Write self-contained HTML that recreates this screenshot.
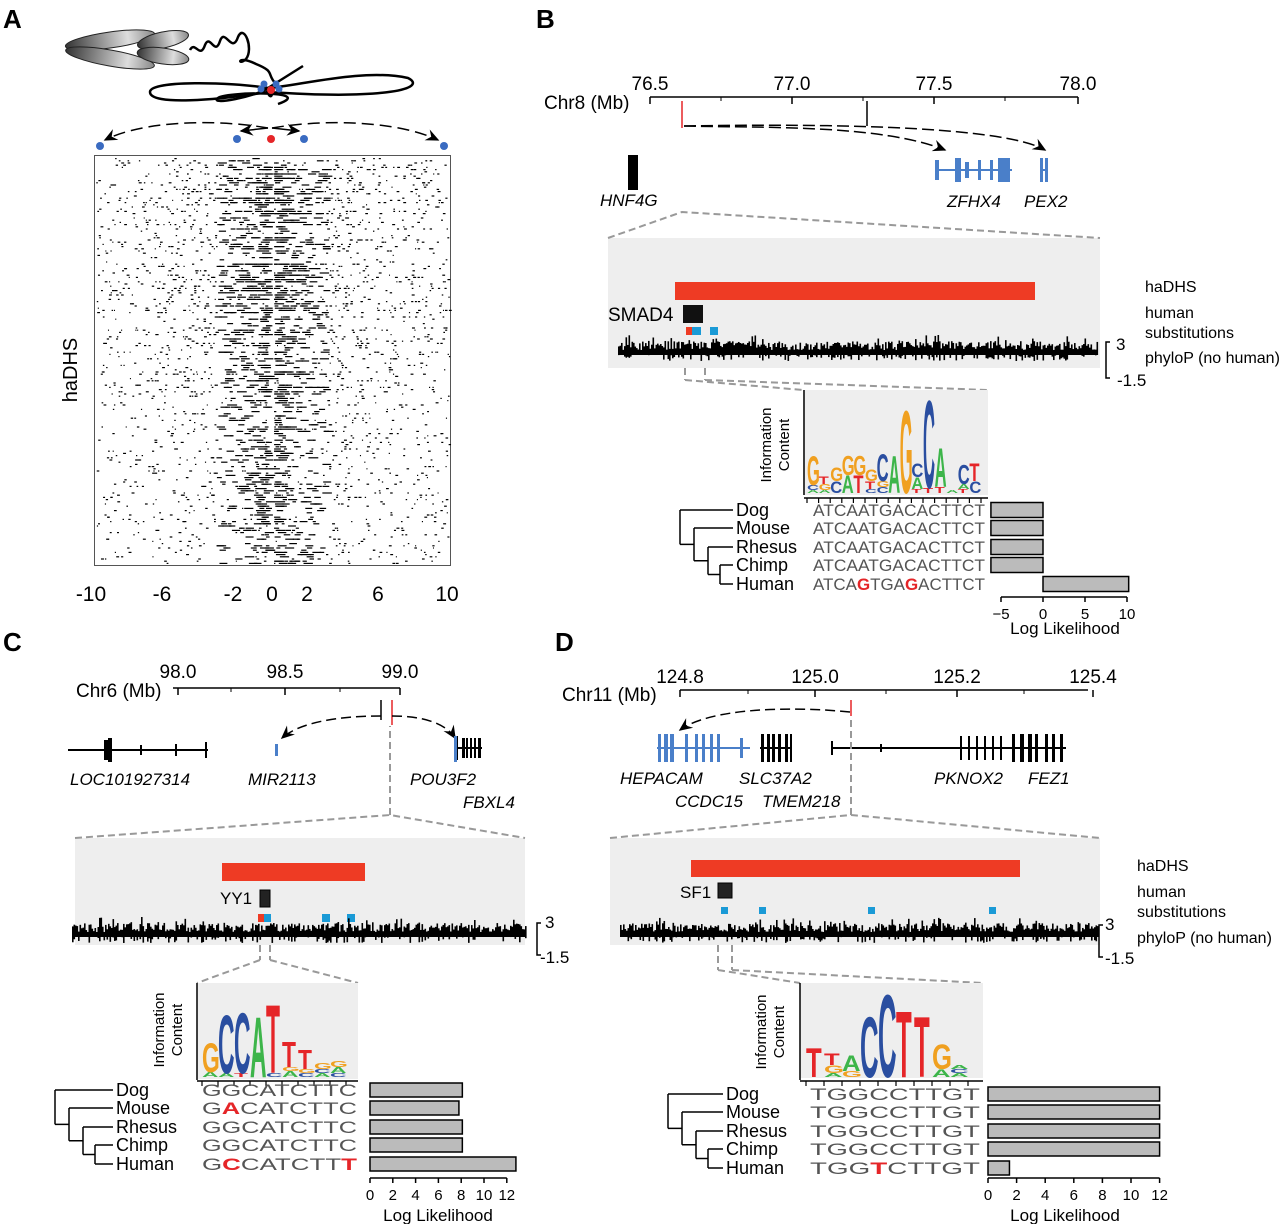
<!DOCTYPE html>
<html><head><meta charset="utf-8"><style>
html,body{margin:0;padding:0;background:#fff}
svg{display:block}
text{font-family:"Liberation Sans",sans-serif}
.it{font-style:italic}
</style></head><body>
<svg id="s" width="1280" height="1224" viewBox="0 0 1280 1224" xmlns="http://www.w3.org/2000/svg">
<defs>
<linearGradient id="gr" x1="0" y1="0" x2="1" y2="0"><stop offset="0" stop-color="#333"/><stop offset="0.7" stop-color="#ddd"/><stop offset="1" stop-color="#888"/></linearGradient>
<marker id="ar" markerWidth="10" markerHeight="10" refX="8" refY="5" orient="auto"><path d="M0,1 L9,5 L0,9 L3,5z" fill="#000"/></marker>
</defs>
<g id="g"></g>
<text x="3" y="28" font-size="26" font-weight="bold">A</text>
<text x="536" y="28" font-size="26" font-weight="bold">B</text>
<text x="3" y="651" font-size="26" font-weight="bold">C</text>
<text x="555" y="651" font-size="26" font-weight="bold">D</text>

<ellipse cx="110" cy="40" rx="45" ry="8" fill="url(#gr)" stroke="#222" transform="rotate(-8 110 40)"/>
<ellipse cx="110" cy="58" rx="45" ry="8" fill="url(#gr)" stroke="#222" transform="rotate(10 110 58)"/>
<ellipse cx="163" cy="40" rx="26" ry="8" fill="url(#gr)" stroke="#222" transform="rotate(-12 163 40)"/>
<ellipse cx="163" cy="56" rx="26" ry="8" fill="url(#gr)" stroke="#222" transform="rotate(8 163 56)"/>
<path d="M190,50 c5,-10 10,10 15,-5 c5,-12 10,12 15,-4 c5,-14 12,14 18,-4 c6,-14 16,12 8,22 c-8,8 -10,-5 10,5 c20,8 10,10 20,20" fill="none" stroke="#000" stroke-width="2.5"/>
<path d="M150,92 c0,-12 80,-10 118,-4 c30,-2 95,-20 140,-10 c20,10 -20,22 -140,14 c-50,8 -118,14 -118,0z" fill="none" stroke="#000" stroke-width="2.5"/>
<path d="M268,88 c-10,8 -60,18 -50,10 c5,-6 100,-8 60,6 M268,88 c-2,6 4,12 4,5 M268,88 l35,-22" fill="none" stroke="#000" stroke-width="2.5"/>
<circle cx="264" cy="84" r="3.5" fill="#3a6bc1"/><circle cx="276" cy="84" r="3.5" fill="#3a6bc1"/>
<circle cx="261" cy="89" r="3.5" fill="#3a6bc1"/><circle cx="279" cy="89" r="3.5" fill="#3a6bc1"/>
<circle cx="271" cy="90" r="4" fill="#e52528"/>
<path d="M268,128 C210,118 140,122 105,140" fill="none" stroke="#000" stroke-width="1.5" stroke-dasharray="12,6" marker-end="url(#ar)"/>
<path d="M272,128 C330,118 400,122 438,140" fill="none" stroke="#000" stroke-width="1.5" stroke-dasharray="12,6" marker-end="url(#ar)"/>
<path d="M268,128 l-27,3" stroke="#000" stroke-width="1.5" marker-end="url(#ar)"/>
<path d="M272,128 l27,3" stroke="#000" stroke-width="1.5" marker-end="url(#ar)"/>
<circle cx="100" cy="146" r="4" fill="#3a6bc1"/><circle cx="237" cy="139" r="4" fill="#3a6bc1"/>
<circle cx="271" cy="139" r="4" fill="#e52528"/><circle cx="304" cy="139" r="4" fill="#3a6bc1"/><circle cx="444" cy="146" r="4" fill="#3a6bc1"/>
<rect x="94.5" y="155.5" width="356" height="410" fill="none" stroke="#555" stroke-width="1"/>
<g id="raster"></g>
<text transform="translate(77,370) rotate(-90)" font-size="20" text-anchor="middle">haDHS</text>
<g font-size="21" text-anchor="middle">
<text x="91" y="601">-10</text><text x="162" y="601">-6</text><text x="233" y="601">-2</text><text x="272" y="601">0</text><text x="307" y="601">2</text><text x="378" y="601">6</text><text x="447" y="601">10</text></g>
</svg>
<script>
var S="http://www.w3.org/2000/svg",G=document.getElementById('g');
function el(t,a,txt,par){var e=document.createElementNS(S,t);for(var k in a)e.setAttribute(k,a[k]);if(txt!=null)e.textContent=txt;(par||G).appendChild(e);return e;}
var seed=7;function R(){seed=(seed*16807)%2147483647;return (seed-1)/2147483646;}
var rg=document.getElementById('raster');
for(var y=158;y<563;y+=2.2){
  var n=Math.floor(6+R()*18*(y<400?1.6:0.8));
  for(var i=0;i<n;i++){
    var d=Math.pow(R(),1.8)*175*(R()<0.5?-1:1);
    var x=270+d+(d<0?-4:4);
    if(x<96||x>449)continue;
    var w=1+R()*(Math.abs(d)<50?9:2);
    el('rect',{x:x,y:y,width:w,height:1.2,fill:'#000'},null,rg);
  }
}
function line(x1,y1,x2,y2,sw,c,da){return el('line',{x1:x1,y1:y1,x2:x2,y2:y2,stroke:c||'#000','stroke-width':sw||1.5,'stroke-dasharray':da||''});}
function txt(x,y,s,fs,o){o=o||{};var a={x:x,y:y,'font-size':fs};for(var k in o)a[k]=o[k];return el('text',a,s);}
function phylo(x1,x2,base){for(var x=x1;x<x2;x+=1.5){var h=5+R()*9+(R()<0.1?6:0);var neg=R()<0.35?R()*6:0;el('rect',{x:x,y:base-h,width:1.6,height:h+neg,fill:'#000'});}}
function gene(x1,x2,y,c,exons){line(x1,y,x2,y,2,c);exons.forEach(function(e){el('rect',{x:e[0],y:y-(e[2]||10),width:e[1],height:2*(e[2]||10),fill:c});});}
function L(x,yb,w,h,ch,c){if(h<1)return;el('text',{x:0,y:0,'font-size':100,fill:c,'font-weight':'bold',transform:'translate('+x+','+yb+') scale('+(w/70)+','+(h/72)+')'},ch);}
var col={A:'#3db54a',C:'#2a4ea0',G:'#f0a020',T:'#e52528'};
function motif(x0,yb,w,cols){cols.forEach(function(c,i){var y=yb;c.forEach(function(p){L(x0+i*w,y,w,p[1],p[0],col[p[0]]);y-=p[1];});});}
function tree(x0,ys,xn){
 var a=(ys[3]+ys[4])/2;line(x0+40,ys[3],x0+40,ys[4]);line(x0+40,ys[3],xn,ys[3]);line(x0+40,ys[4],xn,ys[4]);
 var b=(a+ys[2])/2;line(x0+28,ys[2],x0+28,a);line(x0+28,a,x0+40,a);line(x0+28,ys[2],xn,ys[2]);
 var c=(b+ys[1])/2;line(x0+14,ys[1],x0+14,b);line(x0+14,b,x0+28,b);line(x0+14,ys[1],xn,ys[1]);
 var d=(c+ys[0])/2;line(x0,ys[0],x0,c);line(x0,c,x0+14,c);line(x0,ys[0],xn,ys[0]);}
function species(xl,ys,seqx,seqw,seqs,fs){var nm=['Dog','Mouse','Rhesus','Chimp','Human'];
 nm.forEach(function(n,i){txt(xl,ys[i]+6,n,fs);
  var t=el('text',{x:seqx,y:ys[i]+6,'font-size':17,'font-family':'Liberation Mono, monospace',fill:'#555',textLength:seqw,lengthAdjust:'spacingAndGlyphs'});
  seqs[i].split('').forEach(function(ch){var ts=el('tspan',{},ch,t);if(ch>='a'&&ch<='z'){ts.textContent=ch.toUpperCase();ts.setAttribute('fill','#e52528');ts.setAttribute('font-weight','bold');}});});}
function bars(z,scale,vals,ys,h){vals.forEach(function(v,i){var x=v<0?z+v*scale:z;el('rect',{x:x,y:ys[i]-h/2,width:Math.abs(v)*scale,height:h,fill:'#bbb',stroke:'#000','stroke-width':1.5});});}
function lax(z,scale,y,vals,fs){var a=z+vals[0]*scale,b=z+vals[vals.length-1]*scale;line(a,y,b,y,1.5);vals.forEach(function(v){line(z+v*scale,y,z+v*scale,y+5,1.5);txt(z+v*scale,y+22,(v<0?'\u2212'+(-v):v),fs,{'text-anchor':'middle'});});}

// ===== Panel B =====
line(650,97,1078,97,1.5);[650,792,934,1078].forEach(function(x,i){line(x,97,x,104,1.5);txt(x,90,['76.5','77.0','77.5','78.0'][i],19,{'text-anchor':'middle'});});
[721,863,1005].forEach(function(x){line(x,97,x,101,1);});
txt(544,109,'Chr8 (Mb)',19);
line(682,101,682,128,1.5,'#e52528');line(867,101,867,126,1.5);
el('path',{d:'M684,126 C760,128 880,124 945,150',fill:'none',stroke:'#000','stroke-width':1.5,'stroke-dasharray':'12,5','marker-end':'url(#ar)'});
el('path',{d:'M684,126 C800,124 1000,124 1045,150',fill:'none',stroke:'#000','stroke-width':1.5,'stroke-dasharray':'12,5','marker-end':'url(#ar)'});
el('rect',{x:628,y:155,width:10,height:35,fill:'#000'});
gene(935,1012,170,'#4a7fc9',[[935,4,10],[955,6,12],[965,4,8],[978,3,10],[990,3,10],[998,12,12]]);
gene(1040,1048,170,'#4a7fc9',[[1040,3,12],[1045,3,12]]);
txt(600,206,'HNF4G',17,{class:'it'});txt(947,207,'ZFHX4',17,{class:'it'});txt(1024,207,'PEX2',17,{class:'it'});
el('path',{d:'M608,238 L608,368 L1100,368 L1100,238 Z',fill:'#eeeeee'});
el('path',{d:'M608,238 L682,212 L1100,238',fill:'none',stroke:'#999','stroke-width':2,'stroke-dasharray':'7,4'});
el('rect',{x:675,y:282,width:360,height:18,fill:'#ee3b24'});
txt(608,321,'SMAD4',19);el('rect',{x:683,y:305,width:20,height:18,fill:'#111'});
el('rect',{x:686,y:327,width:6,height:8,fill:'#ee3b24'});el('rect',{x:692,y:327,width:9,height:8,fill:'#1a9ad6'});el('rect',{x:710,y:327,width:8,height:8,fill:'#1a9ad6'});
phylo(618,1098,355);
txt(1145,292,'haDHS',16);txt(1145,318,'human',16);txt(1145,338,'substitutions',16);txt(1145,363,'phyloP (no human)',16);
txt(1116,350,'3',17);txt(1117,386,'-1.5',17);el('path',{d:'M1110,342 L1106,342 L1106,378 L1110,378',fill:'none',stroke:'#000','stroke-width':1.5});
el('path',{d:'M685,368 L685,380 M705,368 L705,380 M685,380 L803,390 M705,380 L988,390',fill:'none',stroke:'#999','stroke-width':2,'stroke-dasharray':'7,4'});
el('rect',{x:803,y:390,width:185,height:105,fill:'#eeeeee'});line(804,390,804,495,1.5);
txt(0,0,'Information',15,{transform:'translate(771,445) rotate(-90)','text-anchor':'middle'});txt(0,0,'Content',15,{transform:'translate(789,445) rotate(-90)','text-anchor':'middle'});
var wB=11.6;
motif(807,493,wB,[[['A',3],['C',5],['G',30]],[['A',3],['G',6],['T',8]],[['C',12],['G',14]],[['A',18],['G',20]],[['T',18],['G',20]],[['C',4],['T',8],['G',12]],[['C',6],['G',6],['C',28]],[['A',38]],[['G',85]],[['T',4],['A',12],['C',14]],[['T',5],['C',90]],[['T',6],['A',40]],[['A',3]],[['T',4],['A',5],['C',20]],[['C',12],['T',18]]]);
line(804,498,988,498,1.5);for(var i=0;i<16;i++)line(807+i*wB,498,807+i*wB,503,1.2);
var yB=[510,528,547,565,584];tree(680,yB,733);
species(736,yB,813,172,['ATCAATGACACTTCT','ATCAATGACACTTCT','ATCAATGACACTTCT','ATCAATGACACTTCT','ATCAgTGAgACTTCT'],18);
bars(1043,8.4,[-6.2,-6.2,-6.2,-6.2,10.2],yB,15);
lax(1043,8.4,597,[-5,0,5,10],15);txt(1065,634,'Log Likelihood',17,{'text-anchor':'middle'});

// ===== Panel C =====
line(173,688,400,688,1.5);[178,285,400].forEach(function(x,i){line(x,688,x,695,1.5);txt(x,678,['98.0','98.5','99.0'][i],19,{'text-anchor':'middle'});});
[231,340].forEach(function(x){line(x,688,x,692,1);});
txt(76,697,'Chr6 (Mb)',19);
line(381,700,381,720,1.5);line(392,700,392,725,1.5,'#e52528');
el('path',{d:'M381,716 C340,716 300,722 282,738',fill:'none',stroke:'#000','stroke-width':1.5,'stroke-dasharray':'10,5','marker-end':'url(#ar)'});
el('path',{d:'M392,716 C420,716 445,722 455,738',fill:'none',stroke:'#000','stroke-width':1.5,'stroke-dasharray':'10,5','marker-end':'url(#ar)'});
gene(68,208,750,'#000',[[104,4,10],[108,4,12],[140,2,5],[175,2,6],[205,2,8]]);
gene(275,278,750,'#4a7fc9',[[275,3,6]]);
gene(455,482,748,'#000',[[455,3,12],[462,3,10],[466,2,10],[470,2,10],[474,2,10],[478,3,10]]);el('rect',{x:454,y:736,width:3,height:26,fill:'#4a7fc9'});
txt(70,785,'LOC101927314',17,{class:'it'});txt(248,785,'MIR2113',17,{class:'it'});txt(410,785,'POU3F2',17,{class:'it'});txt(463,808,'FBXL4',17,{class:'it'});
el('path',{d:'M75,838 L75,945 L525,945 L525,838 Z',fill:'#eeeeee'});
el('path',{d:'M75,838 L390,815 L525,838 M390,815 L390,726',fill:'none',stroke:'#999','stroke-width':2,'stroke-dasharray':'7,4'});
el('rect',{x:222,y:863,width:143,height:18,fill:'#ee3b24'});
txt(220,904,'YY1',17);el('rect',{x:260,y:890,width:10,height:17,fill:'#222',stroke:'#000'});
el('rect',{x:258,y:914,width:6,height:8,fill:'#ee3b24'});el('rect',{x:264,y:914,width:7,height:8,fill:'#1a9ad6'});el('rect',{x:322,y:914,width:8,height:8,fill:'#1a9ad6'});el('rect',{x:347,y:914,width:8,height:8,fill:'#1a9ad6'});
phylo(72,526,937);
txt(545,928,'3',17);txt(540,963,'-1.5',17);el('path',{d:'M541,923 L537,923 L537,955 L541,955',fill:'none',stroke:'#000','stroke-width':1.5});
el('path',{d:'M260,945 L260,960 M270,945 L270,960 M260,960 L197,983 M270,960 L358,983',fill:'none',stroke:'#999','stroke-width':2,'stroke-dasharray':'7,4'});
el('rect',{x:197,y:983,width:161,height:96,fill:'#eeeeee'});line(197,983,197,1080,1.5);
txt(0,0,'Information',15,{transform:'translate(164,1030) rotate(-90)','text-anchor':'middle'});txt(0,0,'Content',15,{transform:'translate(182,1030) rotate(-90)','text-anchor':'middle'});
var wC=16;
motif(202,1077,wC,[[['A',5],['G',30]],[['A',4],['C',60]],[['T',4],['C',62]],[['A',62]],[['C',4],['T',70]],[['A',6],['G',4],['T',26]],[['C',4],['G',4],['T',20]],[['A',4],['C',4],['G',6]],[['C',4],['A',6],['G',6]]]);
line(197,1081,358,1081,1.5);for(var i=0;i<10;i++)line(202+i*wC,1081,202+i*wC,1086,1.2);
var yC=[1090,1108,1127,1145,1164];tree(55,yC,113);
species(116,yC,202,155,['GGCATCTTC','GaCATCTTC','GGCATCTTC','GGCATCTTC','GcCATCTTt'],18);
bars(370,11.4,[8.1,7.8,8.1,8.1,12.8],yC,14);
lax(370,11.4,1178,[0,2,4,6,8,10,12],15);txt(438,1221,'Log Likelihood',17,{'text-anchor':'middle'});

// ===== Panel D =====
line(680,690,1088,690,1.5);[680,815,957,1093].forEach(function(x,i){line(x,690,x,697,1.5);txt(x,683,['124.8','125.0','125.2','125.4'][i],19,{'text-anchor':'middle'});});
[748,886,1024].forEach(function(x){line(x,690,x,694,1);});
txt(562,701,'Chr11 (Mb)',19);
line(851,700,851,716,1.5,'#e52528');
el('path',{d:'M850,712 C790,706 710,708 680,730',fill:'none',stroke:'#000','stroke-width':1.5,'stroke-dasharray':'10,5','marker-end':'url(#ar)'});
gene(657,750,748,'#4a7fc9',[[658,3,14],[664,4,14],[670,4,14],[685,3,14],[695,3,14],[702,3,14],[710,3,14],[717,3,14],[740,3,10]]);
gene(760,792,748,'#000',[[761,3,14],[767,3,14],[772,3,14],[778,3,14],[785,3,14],[790,2,14]]);
gene(831,1066,748,'#000',[[831,2,7],[880,2,4],[960,2,12],[968,2,12],[976,2,12],[984,2,12],[992,2,12],[1000,2,12],[1012,3,14],[1020,4,14],[1028,4,14],[1035,3,14],[1045,3,14],[1052,3,14],[1060,3,14]]);
txt(620,784,'HEPACAM',17,{class:'it'});txt(739,784,'SLC37A2',17,{class:'it'});txt(934,784,'PKNOX2',17,{class:'it'});txt(1028,784,'FEZ1',17,{class:'it'});
txt(675,807,'CCDC15',17,{class:'it'});txt(762,807,'TMEM218',17,{class:'it'});
el('path',{d:'M610,838 L610,945 L1100,945 L1100,838 Z',fill:'#eeeeee'});
el('path',{d:'M610,838 L851,815 L1100,838 M851,815 L851,720',fill:'none',stroke:'#999','stroke-width':2,'stroke-dasharray':'7,4'});
el('rect',{x:691,y:860,width:329,height:17,fill:'#ee3b24'});
txt(680,898,'SF1',17);el('rect',{x:718,y:883,width:14,height:15,fill:'#222',stroke:'#000'});
[721,759,868,989].forEach(function(x){el('rect',{x:x,y:907,width:7,height:7,fill:'#1a9ad6'});});
phylo(620,1098,937);
txt(1137,871,'haDHS',16);txt(1137,897,'human',16);txt(1137,917,'substitutions',16);txt(1137,943,'phyloP (no human)',16);
txt(1105,930,'3',17);txt(1105,964,'-1.5',17);el('path',{d:'M1103,925 L1099,925 L1099,957 L1103,957',fill:'none',stroke:'#000','stroke-width':1.5});
el('path',{d:'M718,945 L718,970 M732,945 L732,970 M718,970 L800,983 M732,970 L983,983',fill:'none',stroke:'#999','stroke-width':2,'stroke-dasharray':'7,4'});
el('rect',{x:800,y:983,width:183,height:95,fill:'#eeeeee'});line(800,983,800,1080,1.5);
txt(0,0,'Information',15,{transform:'translate(766,1032) rotate(-90)','text-anchor':'middle'});txt(0,0,'Content',15,{transform:'translate(784,1032) rotate(-90)','text-anchor':'middle'});
var wD=18;
motif(806,1077,wD,[[['T',30]],[['A',4],['G',8],['T',12]],[['G',6],['A',16]],[['C',62]],[['C',85]],[['T',68]],[['T',62]],[['A',8],['G',25]],[['A',4],['C',4],['A',4]]]);
line(800,1081,983,1081,1.5);for(var i=0;i<10;i++)line(806+i*wD,1081,806+i*wD,1086,1.2);
var yD=[1094,1112,1131,1149,1168];tree(668,yD,723);
species(726,yD,810,170,['TGGCCTTGT','TGGCCTTGT','TGGCCTTGT','TGGCCTTGT','TGGtCTTGT'],18);
bars(988,14.3,[12,12,12,12,1.5],yD,14);
lax(988,14.3,1178,[0,2,4,6,8,10,12],15);txt(1065,1221,'Log Likelihood',17,{'text-anchor':'middle'});
</script>
</body></html>
